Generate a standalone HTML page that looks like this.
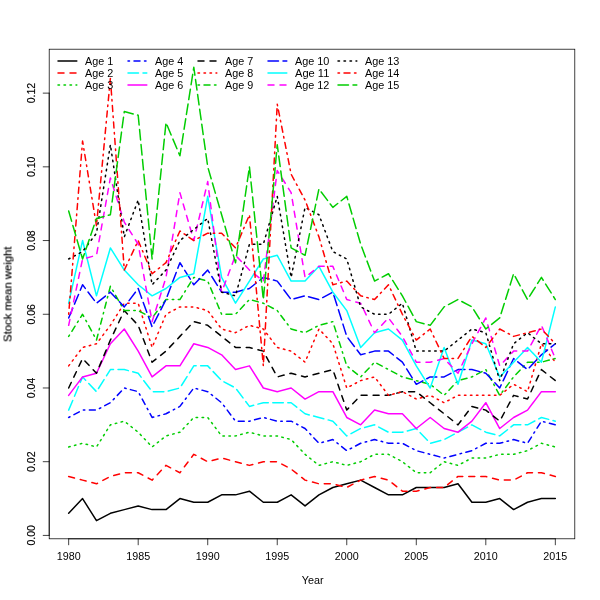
<!DOCTYPE html>
<html><head><meta charset="utf-8"><title>Stock mean weight</title>
<style>
html,body{margin:0;padding:0;background:#fff;}
body{width:600px;height:600px;overflow:hidden;}
svg{display:block;will-change:transform;}
text{font-family:"Liberation Sans",sans-serif;font-size:10px;fill:#000;}
.rot{stroke:#000;stroke-width:0.18px;}
.ln{fill:none;stroke-width:1.5;stroke-linecap:round;stroke-linejoin:round;}
.ax{fill:none;stroke:#000;stroke-width:0.75;stroke-linecap:round;}
</style></head><body>
<svg width="600" height="600" viewBox="0 0 600 600">
<rect x="0" y="0" width="600" height="600" fill="#ffffff"/>
<g opacity="0.999">
<polyline class="ln" stroke="#000000" points="68.67,513.30 82.57,498.55 96.48,520.67 110.38,513.30 124.29,509.61 138.19,505.92 152.10,509.61 166.00,509.61 179.91,498.55 193.81,502.24 207.72,502.24 221.62,494.87 235.52,494.87 249.43,491.18 263.33,502.24 277.24,502.24 291.14,494.87 305.05,505.92 318.95,494.87 332.86,487.50 346.76,483.81 360.67,480.12 374.57,487.50 388.48,494.87 402.38,494.87 416.29,487.50 430.19,487.50 444.10,487.50 458.00,483.81 471.91,502.24 485.81,502.24 499.72,498.55 513.62,509.61 527.53,502.24 541.43,498.55 555.34,498.55"/>
<polyline class="ln" stroke="#FF0000" stroke-dasharray="6.00,6.00" points="68.67,476.44 82.57,480.12 96.48,483.81 110.38,476.44 124.29,472.75 138.19,472.75 152.10,480.12 166.00,465.38 179.91,472.75 193.81,454.32 207.72,461.70 221.62,458.01 235.52,461.70 249.43,465.38 263.33,461.70 277.24,461.70 291.14,469.07 305.05,480.12 318.95,483.81 332.86,483.81 346.76,487.50 360.67,480.12 374.57,476.44 388.48,480.12 402.38,491.18 416.29,491.18 430.19,487.50 444.10,487.50 458.00,476.44 471.91,476.44 485.81,476.44 499.72,480.12 513.62,480.12 527.53,472.75 541.43,472.75 555.34,476.44"/>
<polyline class="ln" stroke="#00CD00" stroke-dasharray="1.50,4.50" points="68.67,446.95 82.57,443.27 96.48,446.95 110.38,424.84 124.29,421.15 138.19,432.21 152.10,446.95 166.00,435.90 179.91,432.21 193.81,417.47 207.72,417.47 221.62,435.90 235.52,435.90 249.43,432.21 263.33,435.90 277.24,435.90 291.14,439.58 305.05,454.32 318.95,465.38 332.86,461.70 346.76,465.38 360.67,461.70 374.57,454.32 388.48,454.32 402.38,461.70 416.29,472.75 430.19,472.75 444.10,461.70 458.00,465.38 471.91,458.01 485.81,458.01 499.72,454.32 513.62,454.32 527.53,450.64 541.43,443.27 555.34,446.95"/>
<polyline class="ln" stroke="#0000FF" stroke-dasharray="1.50,4.50,6.00,4.50" points="68.67,417.47 82.57,410.10 96.48,410.10 110.38,402.72 124.29,387.98 138.19,391.67 152.10,417.47 166.00,413.78 179.91,406.41 193.81,387.98 207.72,391.67 221.62,402.72 235.52,421.15 249.43,421.15 263.33,417.47 277.24,421.15 291.14,421.15 305.05,428.52 318.95,443.27 332.86,439.58 346.76,450.64 360.67,443.27 374.57,439.58 388.48,443.27 402.38,443.27 416.29,450.64 430.19,454.32 444.10,458.01 458.00,454.32 471.91,450.64 485.81,443.27 499.72,443.27 513.62,439.58 527.53,443.27 541.43,421.15 555.34,424.84"/>
<polyline class="ln" stroke="#00FFFF" stroke-dasharray="10.50,4.50" points="68.67,410.10 82.57,376.92 96.48,391.67 110.38,369.55 124.29,369.55 138.19,373.24 152.10,391.67 166.00,391.67 179.91,387.98 193.81,365.87 207.72,365.87 221.62,380.61 235.52,387.98 249.43,406.41 263.33,402.72 277.24,402.72 291.14,402.72 305.05,413.78 318.95,417.47 332.86,421.15 346.76,435.90 360.67,428.52 374.57,424.84 388.48,432.21 402.38,432.21 416.29,428.52 430.19,443.27 444.10,439.58 458.00,432.21 471.91,424.84 485.81,432.21 499.72,435.90 513.62,424.84 527.53,424.84 541.43,417.47 555.34,421.15"/>
<polyline class="ln" stroke="#FF00FF" points="68.67,395.35 82.57,376.92 96.48,373.24 110.38,343.75 124.29,329.01 138.19,351.12 152.10,376.92 166.00,365.87 179.91,365.87 193.81,343.75 207.72,347.44 221.62,354.81 235.52,369.55 249.43,365.87 263.33,387.98 277.24,391.67 291.14,387.98 305.05,399.04 318.95,391.67 332.86,391.67 346.76,417.47 360.67,424.84 374.57,410.10 388.48,413.78 402.38,413.78 416.29,428.52 430.19,417.47 444.10,428.52 458.00,432.21 471.91,421.15 485.81,402.72 499.72,428.52 513.62,417.47 527.53,410.10 541.43,391.67 555.34,391.67"/>
<polyline class="ln" stroke="#000000" stroke-dasharray="6.00,6.00" points="68.67,387.98 82.57,358.50 96.48,373.24 110.38,340.07 124.29,310.58 138.19,325.33 152.10,362.18 166.00,351.12 179.91,336.38 193.81,321.64 207.72,325.33 221.62,336.38 235.52,347.44 249.43,347.44 263.33,351.12 277.24,376.92 291.14,373.24 305.05,376.92 318.95,373.24 332.86,369.55 346.76,410.10 360.67,395.35 374.57,395.35 388.48,395.35 402.38,391.67 416.29,391.67 430.19,402.72 444.10,413.78 458.00,424.84 471.91,406.41 485.81,410.10 499.72,421.15 513.62,395.35 527.53,399.04 541.43,369.55 555.34,380.61"/>
<polyline class="ln" stroke="#FF0000" stroke-dasharray="1.50,4.50" points="68.67,365.87 82.57,347.44 96.48,343.75 110.38,325.33 124.29,303.21 138.19,303.21 152.10,347.44 166.00,314.27 179.91,306.90 193.81,306.90 207.72,310.58 221.62,329.01 235.52,332.70 249.43,325.33 263.33,329.01 277.24,347.44 291.14,351.12 305.05,362.18 318.95,329.01 332.86,343.75 346.76,387.98 360.67,380.61 374.57,376.92 388.48,395.35 402.38,391.67 416.29,399.04 430.19,395.35 444.10,402.72 458.00,395.35 471.91,395.35 485.81,395.35 499.72,395.35 513.62,384.30 527.53,391.67 541.43,343.75 555.34,362.18"/>
<polyline class="ln" stroke="#00CD00" stroke-dasharray="1.50,4.50,6.00,4.50" points="68.67,336.38 82.57,314.27 96.48,340.07 110.38,286.26 124.29,310.58 138.19,310.58 152.10,317.95 166.00,299.53 179.91,299.53 193.81,277.41 207.72,281.10 221.62,314.27 235.52,314.27 249.43,299.53 263.33,303.21 277.24,310.58 291.14,329.01 305.05,332.70 318.95,325.33 332.86,321.64 346.76,365.87 360.67,376.92 374.57,362.18 388.48,369.55 402.38,376.92 416.29,380.61 430.19,384.30 444.10,395.35 458.00,380.61 471.91,376.92 485.81,369.55 499.72,395.35 513.62,376.92 527.53,362.18 541.43,362.18 555.34,358.50"/>
<polyline class="ln" stroke="#0000FF" stroke-dasharray="10.50,4.50" points="68.67,317.95 82.57,284.78 96.48,303.21 110.38,292.15 124.29,306.90 138.19,288.47 152.10,326.80 166.00,299.53 179.91,262.67 193.81,284.78 207.72,270.04 221.62,292.15 235.52,292.15 249.43,288.47 263.33,277.41 277.24,281.10 291.14,299.53 305.05,295.84 318.95,299.53 332.86,292.15 346.76,336.38 360.67,354.81 374.57,351.12 388.48,351.12 402.38,362.18 416.29,384.30 430.19,376.92 444.10,376.92 458.00,369.55 471.91,369.55 485.81,373.24 499.72,387.98 513.62,358.50 527.53,369.55 541.43,354.81 555.34,343.75"/>
<polyline class="ln" stroke="#00FFFF" points="68.67,303.21 82.57,240.55 96.48,295.84 110.38,247.93 124.29,270.04 138.19,284.78 152.10,295.84 166.00,288.47 179.91,277.41 193.81,273.73 207.72,196.33 221.62,277.41 235.52,303.21 249.43,281.10 263.33,258.98 277.24,255.30 291.14,281.10 305.05,281.10 318.95,266.35 332.86,292.15 346.76,310.58 360.67,347.44 374.57,332.70 388.48,329.01 402.38,340.07 416.29,365.87 430.19,387.98 444.10,347.44 458.00,384.30 471.91,340.07 485.81,343.75 499.72,376.92 513.62,362.18 527.53,347.44 541.43,362.18 555.34,306.90"/>
<polyline class="ln" stroke="#FF00FF" stroke-dasharray="6.00,6.00" points="68.67,325.33 82.57,258.98 96.48,255.30 110.38,177.90 124.29,222.13 138.19,244.24 152.10,321.64 166.00,277.41 179.91,192.64 193.81,240.55 207.72,181.58 221.62,292.15 235.52,255.30 249.43,270.04 263.33,281.10 277.24,170.53 291.14,192.64 305.05,277.41 318.95,266.35 332.86,266.35 346.76,299.53 360.67,303.21 374.57,332.70 388.48,317.95 402.38,336.38 416.29,362.18 430.19,362.18 444.10,358.50 458.00,373.24 471.91,343.75 485.81,317.95 499.72,365.87 513.62,351.12 527.53,351.12 541.43,325.33 555.34,358.50"/>
<polyline class="ln" stroke="#000000" stroke-dasharray="1.50,4.50" points="68.67,258.98 82.57,251.61 96.48,233.18 110.38,144.73 124.29,236.87 138.19,200.01 152.10,284.78 166.00,270.04 179.91,240.55 193.81,229.50 207.72,218.44 221.62,292.15 235.52,295.84 249.43,244.24 263.33,244.24 277.24,196.33 291.14,277.41 305.05,207.38 318.95,214.75 332.86,251.61 346.76,258.98 360.67,306.90 374.57,314.27 388.48,314.27 402.38,303.21 416.29,351.12 430.19,351.12 444.10,351.12 458.00,340.07 471.91,329.01 485.81,332.70 499.72,380.61 513.62,343.75 527.53,332.70 541.43,343.75 555.34,343.75"/>
<polyline class="ln" stroke="#FF0000" stroke-dasharray="1.50,4.50,6.00,4.50" points="68.67,314.27 82.57,141.04 96.48,225.81 110.38,78.38 124.29,270.04 138.19,240.55 152.10,273.73 166.00,262.67 179.91,230.97 193.81,240.55 207.72,233.18 221.62,233.18 235.52,247.93 249.43,214.75 263.33,365.87 277.24,104.18 291.14,174.21 305.05,200.01 318.95,236.87 332.86,284.78 346.76,281.10 360.67,295.84 374.57,299.53 388.48,284.78 402.38,314.27 416.29,340.07 430.19,329.01 444.10,358.50 458.00,358.50 471.91,336.38 485.81,347.44 499.72,329.01 513.62,336.38 527.53,332.70 541.43,329.01 555.34,343.75"/>
<polyline class="ln" stroke="#00CD00" stroke-dasharray="10.50,4.50" points="68.67,211.07 82.57,258.98 96.48,218.44 110.38,214.75 124.29,111.55 138.19,115.24 152.10,258.98 166.00,122.61 179.91,155.78 193.81,67.33 207.72,166.84 221.62,214.75 235.52,262.67 249.43,166.84 263.33,299.53 277.24,144.73 291.14,247.93 305.05,255.30 318.95,188.95 332.86,207.38 346.76,196.33 360.67,244.24 374.57,281.10 388.48,273.73 402.38,295.84 416.29,321.64 430.19,325.33 444.10,306.90 458.00,299.53 471.91,306.90 485.81,329.01 499.72,317.95 513.62,273.73 527.53,299.53 541.43,277.41 555.34,299.53"/>
<rect class="ax" x="49.2" y="49.2" width="525.6" height="489.6"/>
<path class="ax" d="M68.67 538.8H555.34"/>
<path class="ax" d="M68.67 538.8v6"/>
<text x="68.67" y="559.8" text-anchor="middle" textLength="23.9" lengthAdjust="spacingAndGlyphs">1980</text>
<path class="ax" d="M138.19 538.8v6"/>
<text x="138.19" y="559.8" text-anchor="middle" textLength="23.9" lengthAdjust="spacingAndGlyphs">1985</text>
<path class="ax" d="M207.72 538.8v6"/>
<text x="207.72" y="559.8" text-anchor="middle" textLength="23.9" lengthAdjust="spacingAndGlyphs">1990</text>
<path class="ax" d="M277.24 538.8v6"/>
<text x="277.24" y="559.8" text-anchor="middle" textLength="23.9" lengthAdjust="spacingAndGlyphs">1995</text>
<path class="ax" d="M346.76 538.8v6"/>
<text x="346.76" y="559.8" text-anchor="middle" textLength="23.9" lengthAdjust="spacingAndGlyphs">2000</text>
<path class="ax" d="M416.29 538.8v6"/>
<text x="416.29" y="559.8" text-anchor="middle" textLength="23.9" lengthAdjust="spacingAndGlyphs">2005</text>
<path class="ax" d="M485.81 538.8v6"/>
<text x="485.81" y="559.8" text-anchor="middle" textLength="23.9" lengthAdjust="spacingAndGlyphs">2010</text>
<path class="ax" d="M555.34 538.8v6"/>
<text x="555.34" y="559.8" text-anchor="middle" textLength="23.9" lengthAdjust="spacingAndGlyphs">2015</text>
<path class="ax" d="M49.2 535.41V93.13"/>
<path class="ax" d="M49.2 535.41h-6"/>
<text class="rot" transform="translate(34.6,535.41) rotate(-90)" text-anchor="middle" textLength="20.4" lengthAdjust="spacingAndGlyphs">0.00</text>
<path class="ax" d="M49.2 461.70h-6"/>
<text class="rot" transform="translate(34.6,461.70) rotate(-90)" text-anchor="middle" textLength="20.4" lengthAdjust="spacingAndGlyphs">0.02</text>
<path class="ax" d="M49.2 387.98h-6"/>
<text class="rot" transform="translate(34.6,387.98) rotate(-90)" text-anchor="middle" textLength="20.4" lengthAdjust="spacingAndGlyphs">0.04</text>
<path class="ax" d="M49.2 314.27h-6"/>
<text class="rot" transform="translate(34.6,314.27) rotate(-90)" text-anchor="middle" textLength="20.4" lengthAdjust="spacingAndGlyphs">0.06</text>
<path class="ax" d="M49.2 240.55h-6"/>
<text class="rot" transform="translate(34.6,240.55) rotate(-90)" text-anchor="middle" textLength="20.4" lengthAdjust="spacingAndGlyphs">0.08</text>
<path class="ax" d="M49.2 166.84h-6"/>
<text class="rot" transform="translate(34.6,166.84) rotate(-90)" text-anchor="middle" textLength="20.4" lengthAdjust="spacingAndGlyphs">0.10</text>
<path class="ax" d="M49.2 93.13h-6"/>
<text class="rot" transform="translate(34.6,93.13) rotate(-90)" text-anchor="middle" textLength="20.4" lengthAdjust="spacingAndGlyphs">0.12</text>
<text x="312.6" y="583.8" text-anchor="middle" textLength="21.8" lengthAdjust="spacingAndGlyphs">Year</text>
<text class="rot" transform="translate(11.5,294.3) rotate(-90)" text-anchor="middle" textLength="95.3" lengthAdjust="spacingAndGlyphs">Stock mean weight</text>
<path class="ln" stroke="#000000" d="M58.0 61.0h18.8"/>
<text x="85.0" y="64.6" textLength="28.2" lengthAdjust="spacingAndGlyphs">Age 1</text>
<path class="ln" stroke="#FF0000" stroke-dasharray="6.00,6.00" d="M58.0 73.0h18.8"/>
<text x="85.0" y="76.6" textLength="28.2" lengthAdjust="spacingAndGlyphs">Age 2</text>
<path class="ln" stroke="#00CD00" stroke-dasharray="1.50,4.50" d="M58.0 85.0h18.8"/>
<text x="85.0" y="88.6" textLength="28.2" lengthAdjust="spacingAndGlyphs">Age 3</text>
<path class="ln" stroke="#0000FF" stroke-dasharray="1.50,4.50,6.00,4.50" d="M128.0 61.0h18.8"/>
<text x="155.0" y="64.6" textLength="28.2" lengthAdjust="spacingAndGlyphs">Age 4</text>
<path class="ln" stroke="#00FFFF" stroke-dasharray="10.50,4.50" d="M128.0 73.0h18.8"/>
<text x="155.0" y="76.6" textLength="28.2" lengthAdjust="spacingAndGlyphs">Age 5</text>
<path class="ln" stroke="#FF00FF" d="M128.0 85.0h18.8"/>
<text x="155.0" y="88.6" textLength="28.2" lengthAdjust="spacingAndGlyphs">Age 6</text>
<path class="ln" stroke="#000000" stroke-dasharray="6.00,6.00" d="M198.0 61.0h18.8"/>
<text x="225.0" y="64.6" textLength="28.2" lengthAdjust="spacingAndGlyphs">Age 7</text>
<path class="ln" stroke="#FF0000" stroke-dasharray="1.50,4.50" d="M198.0 73.0h18.8"/>
<text x="225.0" y="76.6" textLength="28.2" lengthAdjust="spacingAndGlyphs">Age 8</text>
<path class="ln" stroke="#00CD00" stroke-dasharray="1.50,4.50,6.00,4.50" d="M198.0 85.0h18.8"/>
<text x="225.0" y="88.6" textLength="28.2" lengthAdjust="spacingAndGlyphs">Age 9</text>
<path class="ln" stroke="#0000FF" stroke-dasharray="10.50,4.50" d="M268.0 61.0h18.8"/>
<text x="295.0" y="64.6" textLength="34.4" lengthAdjust="spacingAndGlyphs">Age 10</text>
<path class="ln" stroke="#00FFFF" d="M268.0 73.0h18.8"/>
<text x="295.0" y="76.6" textLength="34.4" lengthAdjust="spacingAndGlyphs">Age 11</text>
<path class="ln" stroke="#FF00FF" stroke-dasharray="6.00,6.00" d="M268.0 85.0h18.8"/>
<text x="295.0" y="88.6" textLength="34.4" lengthAdjust="spacingAndGlyphs">Age 12</text>
<path class="ln" stroke="#000000" stroke-dasharray="1.50,4.50" d="M338.0 61.0h18.8"/>
<text x="365.0" y="64.6" textLength="34.4" lengthAdjust="spacingAndGlyphs">Age 13</text>
<path class="ln" stroke="#FF0000" stroke-dasharray="1.50,4.50,6.00,4.50" d="M338.0 73.0h18.8"/>
<text x="365.0" y="76.6" textLength="34.4" lengthAdjust="spacingAndGlyphs">Age 14</text>
<path class="ln" stroke="#00CD00" stroke-dasharray="10.50,4.50" d="M338.0 85.0h18.8"/>
<text x="365.0" y="88.6" textLength="34.4" lengthAdjust="spacingAndGlyphs">Age 15</text>
</g></svg></body></html>
